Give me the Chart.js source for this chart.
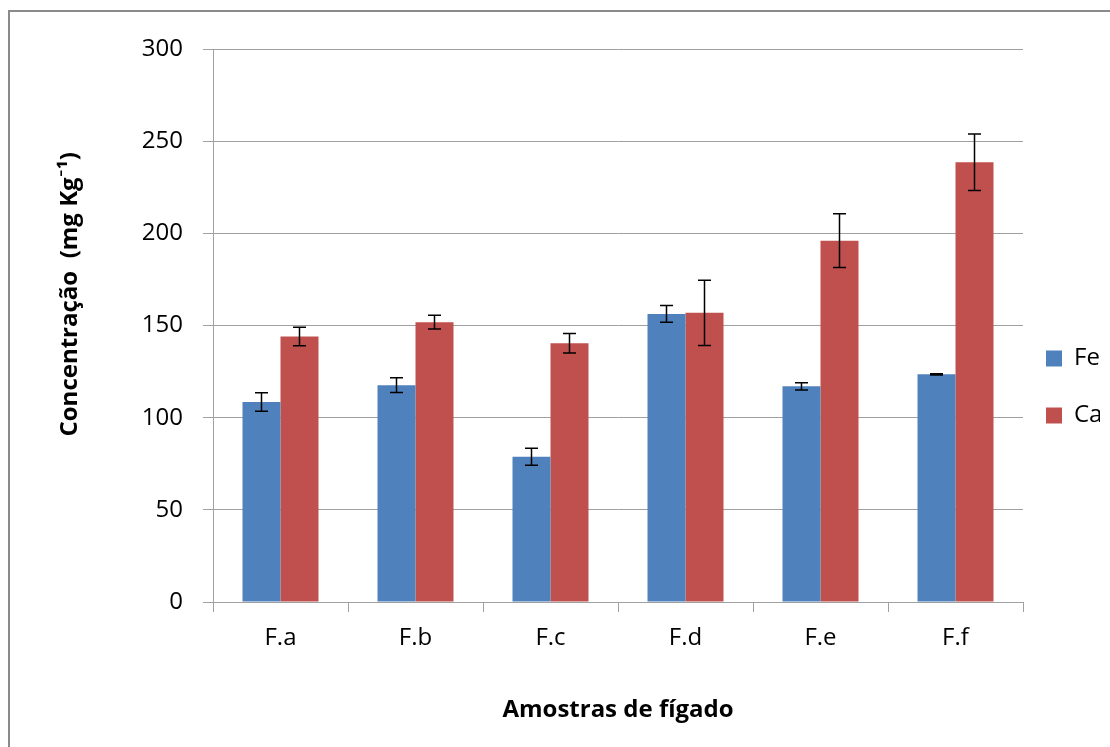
<!DOCTYPE html>
<html>
<head>
<meta charset="utf-8">
<script src="https://cdn.jsdelivr.net/npm/chart.js@4.4.1/dist/chart.umd.min.js"></script>
<style>
  html, body { margin: 0; padding: 0; background: #fff; }
  #wrap { width: 1110px; height: 747px; }
</style>
</head>
<body>
<div id="wrap"><canvas id="chart" width="1110" height="747"></canvas></div>
<script>
// Fe / Ca concentration in liver samples
// =============================================================

const categories = ['F.a', 'F.b', 'F.c', 'F.d', 'F.e', 'F.f']
const feValues = [108.5, 117.6, 78.8, 156.3, 117.0, 123.5]
const feErrors = [5.0, 4.0, 4.6, 4.6, 2.0, 0.3]
const caValues = [144.0, 151.8, 140.4, 156.9, 196.0, 238.6]
const caErrors = [5.0, 3.7, 5.3, 17.7, 14.6, 15.3]
const yMin = 0
const yMax = 300
const yStep = 50

const FONT = '"Open Sans", Lato, sans-serif'
const GRID = '#a0a0a0'

// leading blanks lift the rotated title a little, like the original
const yTitle = '          Concentração  (mg Kg⁻¹)'

// error bars, drawn from the y scale
const errorBars = {
  id: 'errorBars',
  afterDatasetsDraw (chart) {
    const ctx = chart.ctx
    const y = chart.scales.y
    ctx.save()
    ctx.strokeStyle = '#000'
    ctx.lineWidth = 1.5
    chart.data.datasets.forEach((ds, i) => {
      const meta = chart.getDatasetMeta(i)
      meta.data.forEach((bar, j) => {
        const v = ds.data[j]
        const e = ds.errors[j]
        const top = y.getPixelForValue(v + e)
        const bot = y.getPixelForValue(v - e)
        ctx.beginPath()
        ctx.moveTo(bar.x, top)
        ctx.lineTo(bar.x, bot)
        ctx.moveTo(bar.x - 6.5, top)
        ctx.lineTo(bar.x + 6.5, top)
        ctx.moveTo(bar.x - 6.5, bot)
        ctx.lineTo(bar.x + 6.5, bot)
        ctx.stroke()
      })
    })
    ctx.restore()
  }
}

// outer frame of the chart object
const frame = {
  id: 'frame',
  beforeDraw (chart) {
    const ctx = chart.ctx
    ctx.save()
    ctx.fillStyle = '#fff'
    ctx.fillRect(0, 0, chart.width, chart.height)
    ctx.strokeStyle = '#8a8a8a'
    ctx.lineWidth = 2
    ctx.beginPath()
    ctx.moveTo(9, chart.height)
    ctx.lineTo(9, 11)
    ctx.lineTo(chart.width, 11)
    ctx.stroke()
    ctx.restore()
  }
}

// pull the legend a bit closer to the plot
const legendNudge = {
  id: 'legendNudge',
  afterLayout (chart) {
    chart.legend.left -= 10
    chart.legend.right -= 10
  }
}

const data = {
  labels: categories,
  datasets: [{
    label: 'Fe',
    data: feValues,
    errors: feErrors,
    backgroundColor: '#4f81bd',
    categoryPercentage: 0.563,
    barPercentage: 1.0
  }, {
    label: 'Ca',
    data: caValues,
    errors: caErrors,
    backgroundColor: '#c0504d',
    categoryPercentage: 0.563,
    barPercentage: 1.0
  }]
}

const options = {
  responsive: false,
  animation: false,
  layout: {
    padding: { left: 56, top: 49, right: 0, bottom: 22 }
  },
  plugins: {
    tooltip: { enabled: false },
    legend: {
      position: 'right',
      maxWidth: 87,
      labels: {
        boxWidth: 16,
        boxHeight: 16,
        padding: 33,
        color: '#000',
        font: { family: FONT, size: 24 }
      }
    }
  },
  scales: {
    x: {
      grid: {
        display: true,
        offset: true,
        drawOnChartArea: false,
        drawTicks: true,
        tickLength: 10,
        color: GRID
      },
      border: { display: true, color: GRID, width: 1 },
      ticks: {
        color: '#000',
        padding: 12,
        font: { family: FONT, size: 24 }
      },
      title: {
        display: true,
        text: 'Amostras de fígado',
        color: '#000',
        padding: 0,
        font: { family: FONT, size: 24, weight: 'bold' }
      },
      afterFit (scale) { scale.height = 123 }
    },
    y: {
      min: yMin,
      max: yMax,
      grid: {
        color: GRID,
        tickLength: 10
      },
      border: { display: true, color: GRID, width: 1 },
      ticks: {
        stepSize: yStep,
        color: '#000',
        padding: 20,
        font: { family: FONT, size: 24 }
      },
      title: {
        display: true,
        text: yTitle,
        color: '#000',
        padding: 0,
        font: { family: FONT, size: 24, weight: 'bold' }
      },
      afterFit (scale) { scale.width = 157 }
    }
  }
}

new Chart(document.getElementById('chart'), {
  type: 'bar',
  data: data,
  options: options,
  plugins: [frame, errorBars, legendNudge]
})
</script>
</body>
</html>
